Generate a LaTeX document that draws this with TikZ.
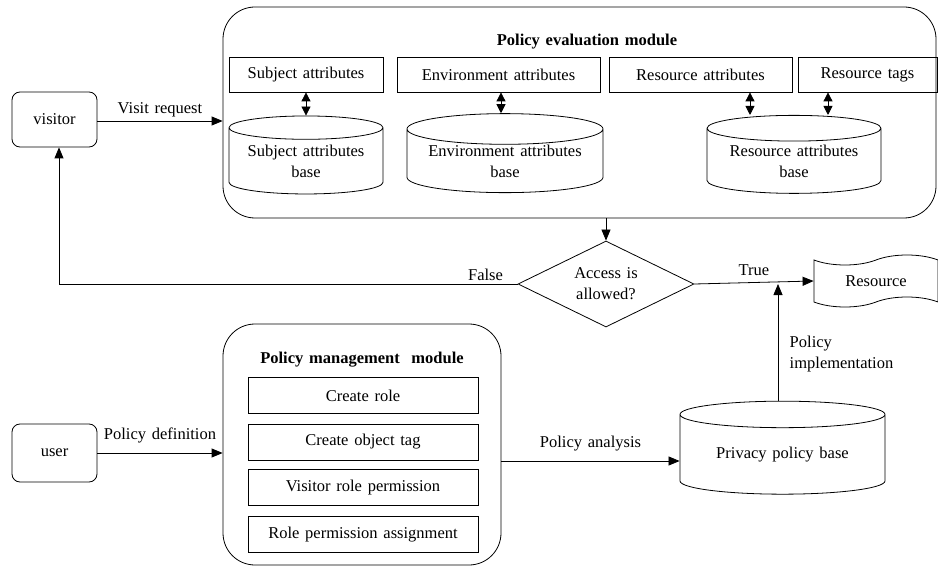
\documentclass[tikz,border=0pt]{standalone}
\usepackage{fontspec}
\setmainfont[WordSpace={1.4,1,1}]{Liberation Serif}
\usetikzlibrary{shapes.geometric,shapes.symbols,arrows.meta}
\tikzset{
  box/.style={draw,rectangle,inner sep=0pt},
  actor/.style={draw,rounded corners=8pt,inner sep=0pt,minimum width=85pt},
  module/.style={draw,rounded corners=32pt,inner sep=0pt},
  store/.style={draw,cylinder,shape border rotate=90,aspect=0.2,inner sep=0pt,align=center},
  arr/.style={-{Triangle[length=11pt,width=9pt]}},
  dbl/.style={{Triangle[length=9pt,width=9pt]}-{Triangle[length=9pt,width=9pt]}},
}
\begin{document}
\begin{tikzpicture}[x=1pt,y=-1pt,line width=0.8pt,font=\fontsize{16.5}{21}\selectfont]
\useasboundingbox (0,0) rectangle (938,567);
% actors
\node [actor,minimum height=55pt] (visitor) at (54.5,119.5) {visitor};
\node [actor,minimum height=58pt] (user) at (54.5,453) {user};
% policy evaluation module
\node [module,minimum width=713pt,minimum height=211pt] (eval) at (579.5,112.5) {};
\node [font=\fontsize{16.5}{21}\selectfont\bfseries] (evaltitle) at (587,42) {Policy evaluation module};
\node [box,minimum width=154pt,minimum height=35pt] (sa) at (306,74.5) {Subject attributes};
\node [box,minimum width=203pt,minimum height=35pt] (ea) at (498.5,74.5) {Environment attributes};
\node [box,minimum width=183pt,minimum height=35pt] (ra) at (700.5,74.5) {Resource attributes};
\node [box,minimum width=139pt,minimum height=35pt] (rt) at (867.5,74.5) {Resource tags};
\node [store,minimum width=154pt,minimum height=78pt] (sab) at (306,161) {Subject attributes\\base};
\node [store,minimum width=196pt,minimum height=78pt] (eab) at (505,161) {Environment attributes\\base};
\node [store,minimum width=174pt,minimum height=78pt] (rab) at (794,161) {Resource attributes\\base};
\draw [dbl] (sa.south) -- (sa.south |- sab.north);
\draw [dbl] (ea.south -| 501,0) -- (eab.north -| 501,0);
\draw [dbl] (ra.south -| 750,0) -- (rab.north -| 750,0);
\draw [dbl] (rt.south -| 828,0) -- (rab.north -| 828,0);
% decision
\node [draw,diamond,aspect=2,inner sep=0pt,align=center,minimum width=176pt,minimum height=86pt] (acc) at (606,284) {Access is\\allowed?};
\node [draw,tape,tape bend height=10pt,minimum width=124pt,minimum height=52pt] (res) at (876,281) {Resource};
% policy management module
\node [module,minimum width=278pt,minimum height=241pt] (mgmt) at (362,444.5) {};
\node [font=\fontsize{16.5}{21}\selectfont\bfseries] (mgmttitle) at (362,360) {Policy management\ \ module};
\node [box,minimum width=230pt,minimum height=36pt] (cr) at (363,395.5) {Create role};
\node [box,minimum width=230pt,minimum height=36pt] (cot) at (363,442) {Create object tag};
\node [box,minimum width=230pt,minimum height=36pt] (vrp) at (363,487.5) {Visitor role permission};
\node [box,minimum width=230pt,minimum height=36pt] (rpa) at (363,534.5) {Role permission assignment};
\node [store,minimum width=205pt,minimum height=93pt] (ppb) at (782.5,454.5) {Privacy policy base};
% connectors
\draw [arr] (visitor.east |- 0,121) -- (eval.west |- 0,121) node [midway,above] {Visit request};
\draw [arr] (eval.south -| acc.north) -- (acc.north);
\draw [arr] (acc.west) -| ([xshift=4.5pt]visitor.south) node [pos=0.035,above] {False};
\draw [arr] (acc.east) -- (res.west) node [midway,above=3pt] {True};
\draw [arr] (ppb.north -| 778,0) -- (acc.east -| 778,0) node [pos=0.4,right=8pt,align=left] {Policy\\implementation};
\draw [arr] (user.east) -- (mgmt.west |- user.east) node [midway,above=6pt] {Policy definition};
\draw [arr] (mgmt.east |- 0,461) -- (ppb.west |- 0,461) node [midway,above=6pt] {Policy analysis};
\end{tikzpicture}
\end{document}
